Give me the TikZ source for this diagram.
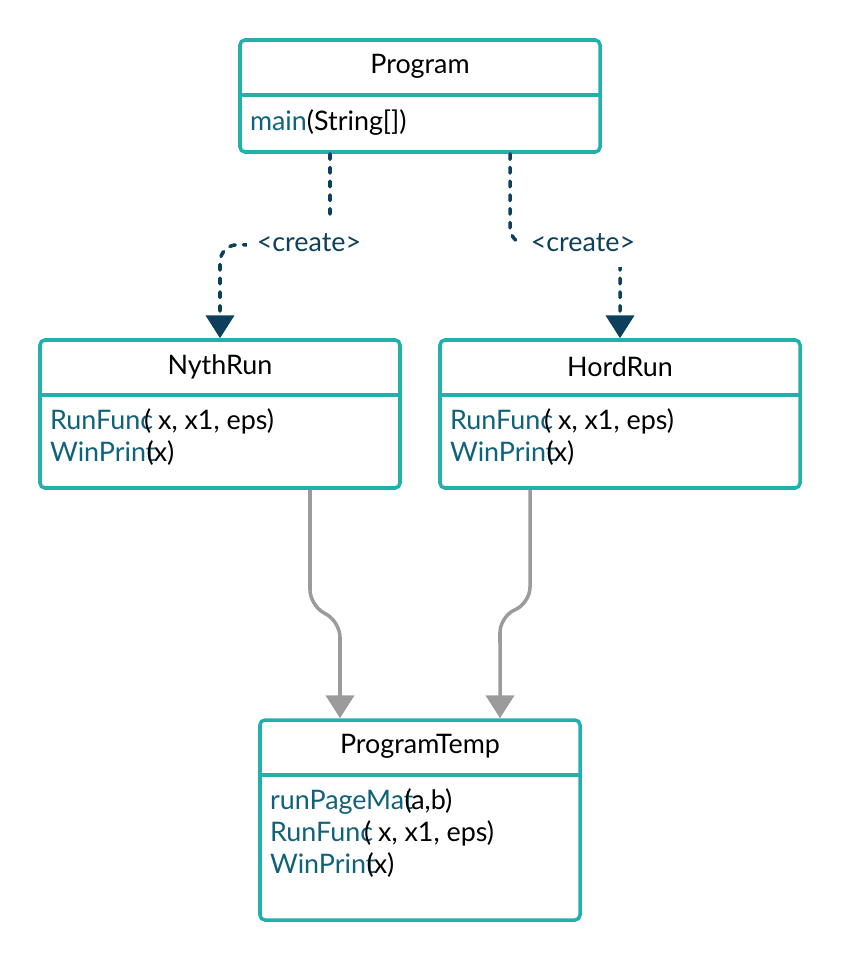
\documentclass[tikz,border=0pt]{standalone}
\usepackage{fontspec}
\setmainfont{Lato}
\usetikzlibrary{arrows.meta,positioning}

\definecolor{umlteal}{RGB}{34,176,172}
\definecolor{umlnavy}{RGB}{12,64,92}
\definecolor{umlname}{RGB}{16,98,122}
\definecolor{umlgray}{RGB}{155,155,155}

% method name in colour, arguments pushed back over its last letter
\newcommand{\meth}[2]{\textcolor{umlname}{#1}\kern-0.33em#2}

\begin{document}
\begin{tikzpicture}[
font=\fontsize{15.3}{18.1}\selectfont,
classbox/.style={
rectangle,
rounded corners=0.1cm,
draw=umlteal,
line width=2pt,
fill=white
},
classname/.style={
anchor=north,
minimum height=1.12cm,
inner sep=0pt
},
members/.style={
anchor=base west,
inner sep=0pt
},
divider/.style={
draw=umlteal,
line width=2pt
},
create/.style={
draw=umlnavy,
line width=2pt,
line cap=round,
dash pattern=on 3.2pt off 4.6pt,
rounded corners=0.35cm,
-{Triangle[width=16pt,length=13pt]}
},
uses/.style={
draw=umlgray,
line width=2pt,
rounded corners=0.3cm,
-{Triangle[width=16pt,length=13pt]}
},
stereo/.style={
fill=white,
text=umlnavy,
inner xsep=0.2cm,
inner ysep=0.3cm
}
]

\useasboundingbox (0,0) rectangle (16.8,-19.2);

% classes
\node[classbox, minimum width=7.2cm, minimum height=2.24cm] (prog) at (8.4,-1.92) {};
\node[classname, minimum width=7.2cm] (progt) at (prog.north) {Program};
\draw[divider] (progt.south west) -- (progt.south east);
\node[members] (progm) at ([xshift=0.2cm,yshift=-0.72cm]progt.south west)
{\begin{tabular}[t]{@{}l@{}}
\textcolor{umlname}{main}(String[])
\end{tabular}};

\node[classbox, minimum width=7.2cm, minimum height=2.96cm] (nyth) at (4.4,-8.28) {};
\node[classname, minimum width=7.2cm] (ntht) at (nyth.north) {NythRun};
\draw[divider] (ntht.south west) -- (ntht.south east);
\node[members] (nythm) at ([xshift=0.2cm,yshift=-0.70cm]ntht.south west)
{\begin{tabular}[t]{@{}l@{}}
\meth{RunFunc}{( x, x1, eps)}\\
\meth{WinPrint}{(x)}
\end{tabular}};

\node[classbox, minimum width=7.2cm, minimum height=2.96cm] (hord) at (12.4,-8.28) {};
\node[classname, minimum width=7.2cm] (hordt) at (hord.north) {HordRun};
\draw[divider] (hordt.south west) -- (hordt.south east);
\node[members] (hordm) at ([xshift=0.2cm,yshift=-0.70cm]hordt.south west)
{\begin{tabular}[t]{@{}l@{}}
\meth{RunFunc}{( x, x1, eps)}\\
\meth{WinPrint}{(x)}
\end{tabular}};

\node[classbox, minimum width=6.4cm, minimum height=4.0cm] (tmpl) at (8.4,-16.4) {};
\node[classname, minimum width=6.4cm] (tmplt) at (tmpl.north) {ProgramTemp};
\draw[divider] (tmplt.south west) -- (tmplt.south east);
\node[members] (tmplm) at ([xshift=0.2cm,yshift=-0.70cm]tmplt.south west)
{\begin{tabular}[t]{@{}l@{}}
\meth{runPageMat}{(a,b)}\\
\meth{RunFunc}{( x, x1, eps)}\\
\meth{WinPrint}{(x)}
\end{tabular}};

% create dependencies
\draw[create] ([xshift=-1.8cm]prog.south) -- ++(0,-1.82) -| (nyth.north);
\draw[create] ([xshift=1.8cm]prog.south) -- ++(0,-1.82) -| (hord.north);
\node[stereo] (create1) at (6.18,-4.86) {<create>};
\node[stereo] (create2) at (11.66,-4.86) {<create>};

% uses
\draw[uses] ([xshift=1.8cm]nyth.south) -- ++(0,-2.3)
  -- ++(0.6,-0.35) -- ([xshift=-1.6cm]tmpl.north);
\draw[uses] ([xshift=-1.8cm]hord.south) -- ++(0,-2.25)
  -- ++(-0.6,-0.3) -- ([xshift=1.6cm]tmpl.north);

\end{tikzpicture}
\end{document}
